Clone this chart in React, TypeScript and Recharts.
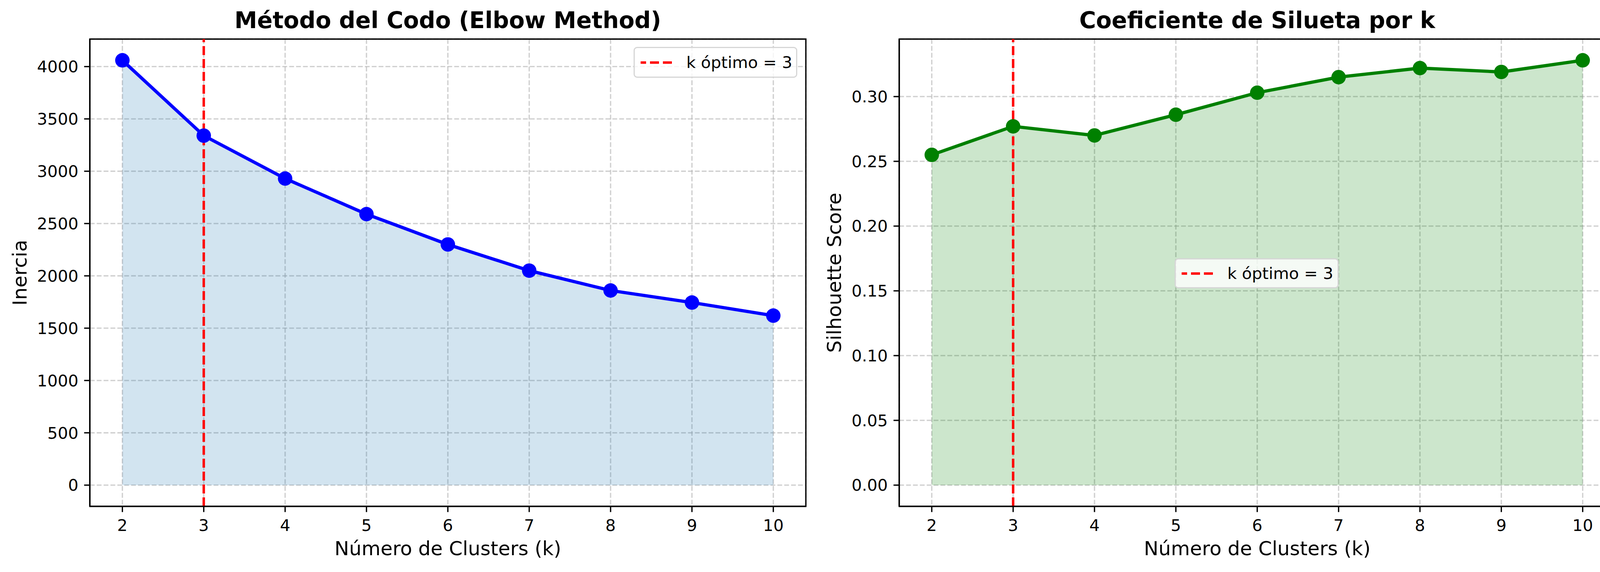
import React from "react";
import {
  Area,
  CartesianGrid,
  ComposedChart,
  Line,
  ReferenceArea,
  ReferenceLine,
  XAxis,
  YAxis,
} from "recharts";

const K_VALUES = [2, 3, 4, 5, 6, 7, 8, 9, 10];
const INERTIA = [4060, 3340, 2930, 2590, 2300, 2050, 1860, 1745, 1620];
const SILHOUETTE = [0.255, 0.277, 0.27, 0.286, 0.303, 0.315, 0.322, 0.319, 0.328];
const INERTIA_TICKS = [0, 500, 1000, 1500, 2000, 2500, 3000, 3500, 4000];
const SILHOUETTE_TICKS = [0, 0.05, 0.1, 0.15, 0.2, 0.25, 0.3];
const OPTIMAL_K = 3;
const LEGEND_LABEL = "k óptimo = 3";

const FONT = "'DejaVu Sans', sans-serif";
const PT = 300 / 72; // matplotlib points -> px at 300 dpi
const TICK_FONT = 10 * PT;
const LABEL_FONT = 12 * PT;
const TITLE_FONT = 14 * PT;
const SPINE = 0.8 * PT;
const TICK_LEN = 3.5 * PT;
const RED_DASH = "23 10";

type PanelProps = {
  left: number;
  width: number;
  plotLeft: number;
  plotRight: number;
  values: number[];
  yTicks: number[];
  color: string;
  fillColor: string;
  fmt: (v: number) => string;
  title: string;
  yLabel: string;
  yLabelX: number;
  legend: { left: number; top: number; width: number; height: number };
};

function Panel(p: PanelProps) {
  const data = K_VALUES.map((k, i) => ({ k, v: p.values[i] }));
  const kMin = Math.min(...K_VALUES);
  const kMax = Math.max(...K_VALUES);
  const kPad = (kMax - kMin) * 0.05;
  const xDomain: [number, number] = [kMin - kPad, kMax + kPad];
  const yMin = 0; // fill_between down to zero
  const yMax = Math.max(...p.values);
  const yPad = (yMax - yMin) * 0.05;
  const yDomain: [number, number] = [yMin - yPad, yMax + yPad];
  const height = 1464;
  const yAxisWidth = 150;
  const top = 100;
  const xAxisHeight = 100;
  const bottomMargin = 68;
  const plotBottom = height - bottomMargin - xAxisHeight;
  const cx = (p.plotLeft + p.plotRight) / 2;
  const cy = (top + plotBottom) / 2;

  const tickStyle = { fill: "#000", fontSize: TICK_FONT, fontFamily: FONT };

  return (
    <div style={{ position: "absolute", left: p.left, top: 0, width: p.width, height }}>
      <ComposedChart
        width={p.width}
        height={height}
        data={data}
        margin={{
          top,
          right: p.width - p.plotRight,
          bottom: bottomMargin,
          left: p.plotLeft - yAxisWidth,
        }}
      >
        <XAxis
          dataKey="k"
          type="number"
          domain={xDomain}
          allowDataOverflow
          ticks={K_VALUES}
          height={xAxisHeight}
          tick={tickStyle}
          tickSize={TICK_LEN}
          tickMargin={19}
          tickLine={{ stroke: "#000", strokeWidth: SPINE }}
          axisLine={{ stroke: "#000", strokeWidth: SPINE }}
        />
        <YAxis
          type="number"
          domain={yDomain}
          allowDataOverflow
          ticks={p.yTicks}
          width={yAxisWidth}
          tick={tickStyle}
          tickFormatter={p.fmt}
          tickSize={TICK_LEN}
          tickMargin={TICK_LEN}
          tickLine={{ stroke: "#000", strokeWidth: SPINE }}
          axisLine={{ stroke: "#000", strokeWidth: SPINE }}
        />
        <Area
          dataKey="v"
          type="linear"
          baseValue={0}
          fill={p.fillColor}
          fillOpacity={0.2}
          stroke="none"
          isAnimationActive={false}
        />
        <CartesianGrid
          stroke="#b0b0b0"
          strokeOpacity={0.6}
          strokeWidth={SPINE}
          strokeDasharray="12.3 5.3"
        />
        <Line
          dataKey="v"
          type="linear"
          stroke={p.color}
          strokeWidth={2 * PT}
          dot={{ r: 18.5, fill: p.color, stroke: p.color, strokeWidth: 0 }}
          activeDot={false}
          isAnimationActive={false}
        />
        <ReferenceLine
          x={OPTIMAL_K}
          stroke="#ff0000"
          strokeWidth={1.5 * PT}
          strokeDasharray={RED_DASH}
        />
        <ReferenceArea
          x1={xDomain[0]}
          x2={xDomain[1]}
          y1={yDomain[0]}
          y2={yDomain[1]}
          fill="none"
          stroke="#000"
          strokeWidth={SPINE}
          ifOverflow="visible"
        />
      </ComposedChart>

      <svg
        width={p.width}
        height={height}
        style={{ position: "absolute", left: 0, top: 0, pointerEvents: "none" }}
      >
        <text
          x={cx}
          y={72}
          textAnchor="middle"
          fontFamily={FONT}
          fontSize={TITLE_FONT}
          fontWeight="bold"
          fill="#000"
        >
          {p.title}
        </text>
        <text
          x={cx}
          y={1421}
          textAnchor="middle"
          fontFamily={FONT}
          fontSize={LABEL_FONT}
          fill="#000"
        >
          Número de Clusters (k)
        </text>
        <text
          x={p.yLabelX}
          y={cy}
          textAnchor="middle"
          fontFamily={FONT}
          fontSize={LABEL_FONT}
          fill="#000"
          transform={`rotate(-90 ${p.yLabelX} ${cy})`}
        >
          {p.yLabel}
        </text>
      </svg>

      <div
        style={{
          position: "absolute",
          left: p.legend.left,
          top: p.legend.top,
          width: p.legend.width,
          height: p.legend.height,
          boxSizing: "border-box",
          border: "3px solid #d6d6d6",
          borderRadius: 9,
          background: "rgba(255,255,255,0.8)",
          display: "flex",
          alignItems: "center",
          paddingLeft: 15,
          fontFamily: FONT,
          fontSize: TICK_FONT,
          color: "#000",
        }}
      >
        <svg width={84} height={20} style={{ marginRight: 33 }}>
          <line
            x1={0}
            y1={10}
            x2={84}
            y2={10}
            stroke="#ff0000"
            strokeWidth={1.5 * PT}
            strokeDasharray={RED_DASH}
            strokeDashoffset={9}
          />
        </svg>
        <span>{LEGEND_LABEL}</span>
      </div>
    </div>
  );
}

export default function App() {
  return (
    <div
      style={{
        position: "absolute",
        left: 0,
        top: 0,
        width: 4164,
        height: 1464,
        background: "#fff",
        overflow: "hidden",
      }}
    >
      <Panel
        left={0}
        width={2100}
        plotLeft={230}
        plotRight={2063}
        values={INERTIA}
        yTicks={INERTIA_TICKS}
        color="#0000ff"
        fillColor="#1f77b4"
        fmt={(v) => String(v)}
        title="Método del Codo (Elbow Method)"
        yLabel="Inercia"
        yLabelX={68}
        legend={{ left: 1622, top: 120, width: 419, height: 79 }}
      />
      <Panel
        left={2100}
        width={2064}
        plotLeft={202}
        plotRight={2035}
        values={SILHOUETTE}
        yTicks={SILHOUETTE_TICKS}
        color="#008000"
        fillColor="#008000"
        fmt={(v) => v.toFixed(2)}
        title="Coeficiente de Silueta por k"
        yLabel="Silhouette Score"
        yLabelX={53}
        legend={{ left: 907, top: 661, width: 420, height: 77 }}
      />
    </div>
  );
}
